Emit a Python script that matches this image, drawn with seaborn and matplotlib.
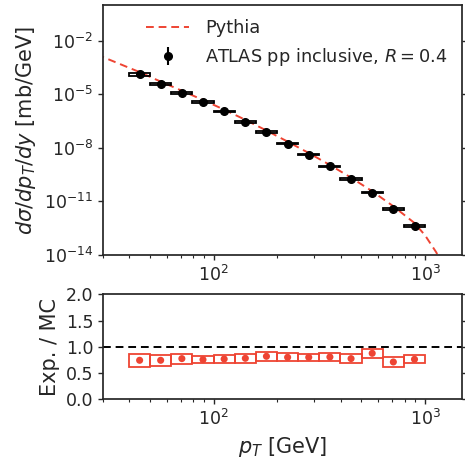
import numpy as np
import pandas as pd
import matplotlib
matplotlib.use("Agg")
import matplotlib.pyplot as plt
import seaborn as sns
from matplotlib.patches import Rectangle
from matplotlib.ticker import NullLocator

# ---------------- data ----------------
bin_lo = [39.8, 50.1, 63.1, 79.4, 100.0, 125.9, 158.5, 199.5, 251.2, 316.2, 398.1, 501.2, 631.0, 794.3]
bin_hi = [50.1, 63.1, 79.4, 100.0, 125.9, 158.5, 199.5, 251.2, 316.2, 398.1, 501.2, 631.0, 794.3, 1000.0]
pt_center = [44.7, 56.2, 70.8, 89.1, 112.2, 141.3, 177.8, 223.9, 281.8, 354.8, 446.7, 562.3, 707.9, 891.3]
xsec = [1.29e-4, 3.72e-5, 1.20e-5, 3.63e-6, 1.10e-6, 2.88e-7, 7.59e-8, 1.74e-8,
        4.17e-9, 9.33e-10, 1.74e-10, 3.09e-11, 3.80e-12, 4.37e-13]
ratio = [0.743, 0.743, 0.775, 0.756, 0.768, 0.781, 0.819, 0.800, 0.800, 0.806, 0.775, 0.876, 0.711, 0.762]
ratio_err = [0.125, 0.10, 0.095, 0.072, 0.076, 0.083, 0.089, 0.076, 0.072, 0.076, 0.083, 0.083, 0.092, 0.076]

pythia_pt = [28.0, 44.7, 56.2, 70.8, 89.1, 112.2, 141.3, 177.8, 223.9, 281.8, 354.8, 446.7, 562.3, 707.9, 891.3, 1000.0, 1130.0, 1300.0]
pythia_xsec = [1.7e-3, 1.74e-4, 5.13e-5, 1.58e-5, 4.79e-6, 1.38e-6, 3.72e-7, 9.33e-8, 2.24e-8,
               5.13e-9, 1.10e-9, 2.14e-10, 3.72e-11, 5.37e-12, 6.17e-13, 1.26e-13, 1.4e-14, 5.0e-16]

df = pd.DataFrame({"pt": pt_center, "lo": bin_lo, "hi": bin_hi, "xsec": xsec,
                   "ratio": ratio, "rerr": ratio_err})
df_py = pd.DataFrame({"pt": pythia_pt, "xsec": pythia_xsec})

# ---------------- style ----------------
sns.set_theme(style="ticks")
plt.rcParams.update({
    "font.family": ["DejaVu Sans"],
    "xtick.labelsize": 12.5, "ytick.labelsize": 12.5,
    "axes.labelsize": 15, "legend.fontsize": 12.8,
    "mathtext.fontset": "dejavusans",
    "xtick.major.size": 3.5, "ytick.major.size": 3.5,
    "xtick.minor.size": 2.0, "ytick.minor.size": 2.0,
    "xtick.major.width": 1.0, "ytick.major.width": 1.0,
    "xtick.minor.width": 0.8, "ytick.minor.width": 0.8,
})
RED = "#ee4433"
W, H = 465, 463
fig = plt.figure(figsize=(W / 100, H / 100), dpi=100)
ax = fig.add_axes([103 / W, 1 - 255 / H, 358.7 / W, 250 / H])
axr = fig.add_axes([103 / W, 1 - 399.3 / H, 358.7 / W, 105 / H])

# ---------------- top panel ----------------
sns.lineplot(data=df_py, x="pt", y="xsec", ax=ax, color=RED, linestyle=(0, (4, 2.5)),
             lw=1.4, label="Pythia", sort=False)
for _, r in df.iterrows():
    rel = r.rerr / r.ratio
    ax.add_patch(Rectangle((r.lo, r.xsec * (1 - rel)), r.hi - r.lo, r.xsec * 2 * rel,
                           facecolor="none", edgecolor="black", lw=1.3, zorder=3))
ax.errorbar(df.pt, df.xsec, yerr=df.xsec * 0.02, fmt="o", color="black", ms=5.5,
            elinewidth=1.5, capsize=0, zorder=4, label="ATLAS pp inclusive, $R = 0.4$")
ax.set_xscale("log")
ax.set_yscale("log")
ax.set_xlim(30, 1490)
ax.set_ylim(1e-14, 1)
ax.set_yticks([1e-14, 1e-11, 1e-8, 1e-5, 1e-2])
ax.yaxis.set_minor_locator(NullLocator())
ax.set_xlabel("")
ax.set_ylabel(r"$d\sigma/dp_T/dy$ [mb/GeV]")
ax.tick_params(axis="y", which="both", right=True)
ax.legend(loc="upper right", frameon=False, handlelength=2.4, handletextpad=0.9,
          borderaxespad=0.4)

# ---------------- ratio panel ----------------
for _, r in df.iterrows():
    axr.add_patch(Rectangle((r.lo, r.ratio - r.rerr), r.hi - r.lo, 2 * r.rerr,
                            facecolor="none", edgecolor=RED, lw=1.3, zorder=3))
sns.scatterplot(data=df, x="pt", y="ratio", ax=axr, color=RED, s=26, edgecolor="none", zorder=4)
axr.axhline(1.0, color="black", ls=(0, (4, 2.5)), lw=1.4)
axr.set_xscale("log")
axr.set_xlim(30, 1490)
axr.set_ylim(0, 2)
axr.set_yticks([0, 0.5, 1.0, 1.5, 2.0])
axr.set_ylabel("Exp. / MC")
axr.set_xlabel(r"$p_T$ [GeV]")
axr.tick_params(axis="y", which="both", right=True)

fig.savefig("out.png", dpi=100)
